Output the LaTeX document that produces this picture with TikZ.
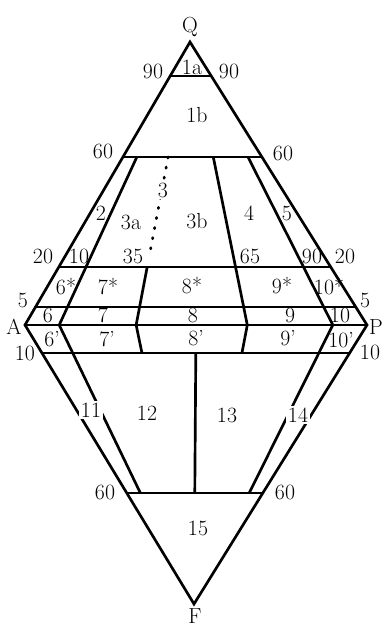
\documentclass[tikz,border=0pt]{standalone}
\usetikzlibrary{calc}
\begin{document}
\begin{tikzpicture}[
		x=0.025cm, y=-0.025cm,
		bordo/.style={line width=1.9pt, line join=miter, black},
		campo/.style={line width=1.9pt, black},
		punti/.style={line width=1.9pt, dash pattern=on 0.9pt off 6.4pt, line cap=round, black},
		lab/.style={font=\fontsize{15.5}{17}\selectfont, inner sep=0pt},
		labb/.style={lab, fill=white, inner sep=1.2pt},
		]
		
		\useasboundingbox (0,0) rectangle (387,626);
		
		% vertici del doppio triangolo
		\coordinate (Q) at (190,42);
		\coordinate (A) at (25,325);
		\coordinate (P) at (367,325);
		\coordinate (F) at (194,604);
		
		% limiti orizzontali (quota di Q e di F)
		\foreach \t/\n in {0.88/90, 0.594/60, 0.205/20, 0.064/5}{
			\coordinate (a\n) at ($(A)!\t!(Q)$);
			\coordinate (p\n) at ($(P)!\t!(Q)$);
		}
		\coordinate (af10) at ($(A)!0.1!(F)$);
		\coordinate (pf10) at ($(P)!0.1!(F)$);
		\coordinate (af60) at ($(A)!0.602!(F)$);
		\coordinate (pf60) at ($(P)!0.602!(F)$);
		
		\def\rt{0.325}   % limite 35 come disegnato
		
		%%═══ CONTORNO E LINEE ORIZZONTALI ═══════════════════════════
		\draw[bordo] (A) -- (Q) -- (P) -- (F) -- cycle;
		\draw[campo] (A) -- (P);
		\draw[campo] (a90) -- (p90);
		\draw[campo] (a60) -- (p60);
		\draw[campo] (a20) -- (p20);
		\draw[campo] (a5) -- (p5);
		\draw[campo] (af10) -- (pf10);
		\draw[campo] (af60) -- (pf60);
		
		%%═══ TRIANGOLO SUPERIORE (QAP) ═══════════════════════════════
		\draw[campo] ($(a60)!0.1!(p60)$) -- ($(A)!0.1!(P)$);     % 10
		\draw[campo] ($(a60)!0.65!(p60)$) -- ($(A)!0.65!(P)$);   % 65
		\draw[campo] ($(a60)!0.9!(p60)$) -- ($(A)!0.9!(P)$);     % 90
		\draw[campo] ($(a20)!\rt!(p20)$) -- ($(A)!\rt!(P)$);     % 35 (sotto 20)
		\coordinate (t35) at ($(a60)!\rt!(p60)$);
		\coordinate (m35) at ($(a20)!\rt!(p20)$);
		\draw[punti] (t35) -- ($(t35)!0.91!(m35)$);              % 35 (tratteggio)
		
		%%═══ TRIANGOLO INFERIORE (FAP) ═══════════════════════════════
		\draw[campo] ($(A)!0.1!(P)$) -- ($(af60)!0.1!(pf60)$);
		\draw[campo] ($(A)!0.9!(P)$) -- ($(af60)!0.9!(pf60)$);
		\draw[campo] ($(A)!\rt!(P)$) -- ($(af10)!\rt!(pf10)$);
		\draw[campo] ($(A)!0.65!(P)$) -- ($(af10)!0.65!(pf10)$);
		\draw[campo] ($(af10)!0.5!(pf10)$) -- ($(af60)!0.5!(pf60)$);
		
		%%═══ ETICHETTE ══════════════════════════════════════════════
		\node[lab] (nQ) at (190,27) {Q};
		\node[lab] (nA) at (14,327) {A};
		\node[lab] (nP) at (376,327) {P};
		\node[lab] (nF) at (195,616) {F};
		% valori limite
		\node[lab] (q90a) at (153,71) {90};
		\node[lab] (q90b) at (229,71) {90};
		\node[lab] (q60a) at (103,151) {60};
		\node[lab] (q60b) at (283,153) {60};
		\node[lab] (q20a) at (43,256) {20};
		\node[lab] (r10) at (79,256) {10};
		\node[lab] (r35) at (133,256) {35};
		\node[lab] (r65) at (250,256) {65};
		\node[lab] (r90) at (312,256) {90};
		\node[lab] (q20b) at (345,256) {20};
		\node[lab] (q5a) at (23,300) {5};
		\node[lab] (q5b) at (365,300) {5};
		\node[lab] (f10a) at (25,353) {10};
		\node[lab] (f10b) at (370,352) {10};
		\node[lab] (f60a) at (105,492) {60};
		\node[lab] (f60b) at (285,492) {60};
		% campi
		\node[lab] (c1a) at (192,67) {1a};
		\node[lab] (c1b) at (197,115) {1b};
		\node[lab] (c2) at (101,213) {2};
		\node[labb] (c3) at (163,190) {3};
		\node[lab] (c3a) at (131,222) {3a};
		\node[lab] (c3b) at (197,221) {3b};
		\node[lab] (c4) at (249,213) {4};
		\node[lab] (c5) at (287,213) {5};
		\node[lab] (c6s) at (66,287) {6*};
		\node[lab] (c7s) at (108,287) {7*};
		\node[lab] (c8s) at (192,286) {8*};
		\node[lab] (c9s) at (282,286) {9*};
		\node[lab] (c10s) at (329,287) {10*};
		\node[lab] (c6) at (48,315) {6};
		\node[lab] (c7) at (103,315) {7};
		\node[lab] (c8) at (193,315) {8};
		\node[lab] (c9) at (290,315) {9};
		\node[lab] (c10) at (340,315) {10};
		\node[lab] (c6p) at (52,339) {6'};
		\node[lab] (c7p) at (107,339) {7'};
		\node[lab] (c8p) at (196,338) {8'};
		\node[lab] (c9p) at (288,338) {9'};
		\node[lab] (c10p) at (341,340) {10'};
		\node[labb] (c11) at (91,410) {11};
		\node[lab] (c12) at (147,413) {12};
		\node[lab] (c13) at (227,415) {13};
		\node[labb] (c14) at (298,415) {14};
		\node[lab] (c15) at (198,528) {15};
		
\end{tikzpicture}
\end{document}
